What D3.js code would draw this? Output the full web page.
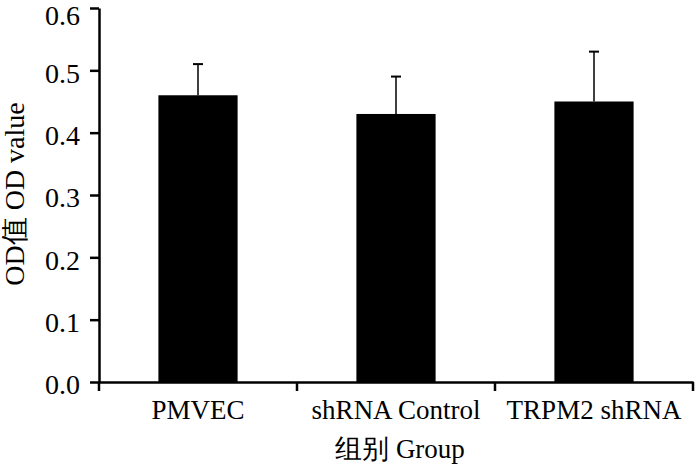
<!DOCTYPE html>
<html><head><meta charset="utf-8">
<script src="https://cdn.jsdelivr.net/npm/d3@7"></script>
<style>
body{margin:0;background:#fff;}
svg text{font-family:"Liberation Serif","Times New Roman",serif;fill:#000;}
</style></head>
<body><svg id="c" width="700" height="465"></svg>
<script>
const categories = ["PMVEC", "shRNA Control", "TRPM2 shRNA"];
const values = [0.46, 0.43, 0.45];
const errors = [0.05, 0.06, 0.08];
const yTicks = [0, 0.1, 0.2, 0.3, 0.4, 0.5, 0.6];
const yTitle = "OD值 OD value";
const xTitle = "组别 Group";

const svg = d3.select("#c");
const m = {left: 99, right: 7, top: 8, bottom: 83};
const W = 700, H = 465;
const x = d3.scaleBand().domain(categories).range([m.left, W - m.right]).paddingInner(0).paddingOuter(0);
const y = d3.scaleLinear().domain([0, 0.6]).range([H - m.bottom, m.top]);

// bars
const bw = x.bandwidth() * 0.4;
svg.selectAll("rect.bar").data(categories).enter().append("rect")
  .attr("x", (d) => x(d) + x.bandwidth()/2 - bw/2)
  .attr("y", (d,i) => y(values[i]))
  .attr("width", bw)
  .attr("height", (d,i) => y(0) - y(values[i]))
  .attr("fill", "#000");

// error bars
const g = svg.append("g");
categories.forEach((c,i) => {
  const cx = x(c) + x.bandwidth()/2;
  g.append("line").attr("x1", cx).attr("x2", cx)
    .attr("y1", y(values[i])).attr("y2", y(values[i] + errors[i]))
    .attr("stroke", "#000").attr("stroke-width", 1.5);
  g.append("line").attr("x1", cx - 5).attr("x2", cx + 5)
    .attr("y1", y(values[i] + errors[i])).attr("y2", y(values[i] + errors[i]))
    .attr("stroke", "#000").attr("stroke-width", 2);
});

// y axis
const ya = svg.append("g").attr("transform", `translate(${m.left},0)`)
  .call(d3.axisLeft(y).tickValues(yTicks).tickFormat(d3.format(".1f")).tickSize(9).tickSizeOuter(0).tickPadding(10));
ya.attr("font-size", null).attr("font-family", null);
ya.select(".domain").attr("stroke-width", 2.5);
ya.selectAll(".tick line").attr("stroke-width", 2.5);
ya.selectAll("text").style("font-size", "28px")
  .attr("dy", d => d === 0.6 ? "0.58em" : "0.42em");

// x axis
const xa = svg.append("g").attr("transform", `translate(0,${y(0)})`)
  .call(d3.axisBottom(x).tickSize(0).tickPadding(18));
xa.attr("font-size", null).attr("font-family", null);
xa.select(".domain").attr("stroke-width", 2.5);
xa.selectAll("text").style("font-size", "27px");
// boundary ticks
const bounds = categories.map(c => x(c)).concat([x(categories[categories.length-1]) + x.bandwidth()]);
xa.selectAll("line.bt").data(bounds).enter().append("line")
  .attr("x1", d => d).attr("x2", d => d).attr("y1", 0).attr("y2", 9)
  .attr("stroke", "#000").attr("stroke-width", 2.5);

// titles
svg.append("text").attr("x", 400).attr("y", 458).attr("text-anchor", "middle")
  .style("font-size", "27px").text(xTitle);
svg.append("text").attr("transform", "translate(24,194) rotate(-90)").attr("text-anchor", "middle")
  .style("font-size", "28px").text(yTitle);
</script></body></html>
